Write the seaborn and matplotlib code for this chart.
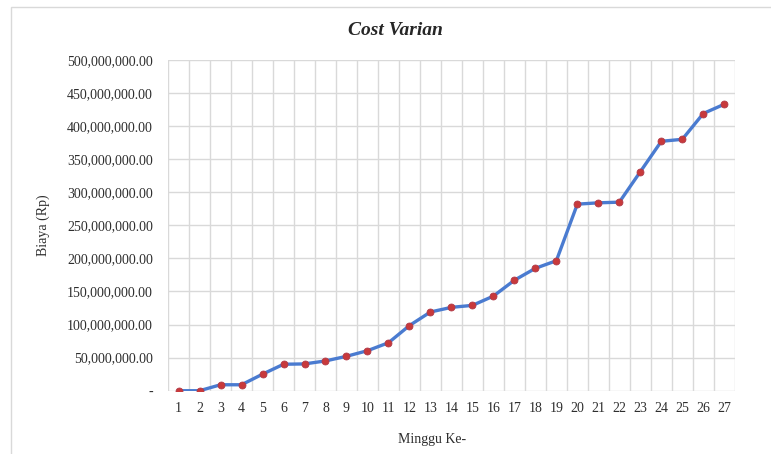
import numpy as np
import pandas as pd
import matplotlib
matplotlib.use("Agg")
import matplotlib.pyplot as plt
import seaborn as sns
from matplotlib.ticker import FuncFormatter, MultipleLocator
from matplotlib.patches import Rectangle

# Data (Rp)
minggu = list(range(1, 28))
biaya = [0, 0, 9e6, 9e6, 25e6, 40e6, 40.5e6, 45e6, 52e6, 60.5e6,
         72.5e6, 98.5e6, 119e6, 126e6, 129e6, 143e6, 167e6, 185e6, 196.5e6,
         282e6, 284e6, 285e6, 331e6, 377e6, 380e6, 419e6, 433e6]

df = pd.DataFrame({"Minggu": minggu, "Biaya": biaya})

sns.set_style("white")
plt.rcParams["font.family"] = ["Liberation Serif", "DejaVu Serif"]

fig = plt.figure(figsize=(7.71, 4.54), dpi=100)
ax = fig.add_axes([0.218, 0.1394, 0.735, 0.7286])

sns.lineplot(data=df, x="Minggu", y="Biaya", ax=ax, color="#4A7BD0",
             linewidth=2.4, marker="o", markersize=5,
             markerfacecolor="#C8393B", markeredgecolor="#B03A48",
             markeredgewidth=0.6, zorder=3)

ax.set_xlim(0.5, 27.5)
ax.set_ylim(0, 500e6)
ax.set_xticks(minggu)
ax.xaxis.set_minor_locator(MultipleLocator(1, offset=0.5))
ax.yaxis.set_major_locator(MultipleLocator(50e6))
ax.yaxis.set_major_formatter(FuncFormatter(lambda v, p: "-" if v == 0 else f"{v:,.2f}"))

ax.grid(False)
ax.grid(True, which="minor", axis="x", color="#D9D9D9", linewidth=1.0)
ax.grid(True, which="major", axis="y", color="#D9D9D9", linewidth=1.0)
for s in ax.spines.values():
    s.set_visible(False)
ax.tick_params(axis="both", which="both", length=0)
ax.tick_params(axis="y", pad=11, labelsize=10, labelcolor="#2E2E2E")
ax.tick_params(axis="x", pad=8, labelsize=10, labelcolor="#2E2E2E")

ax.set_xlabel("")
ax.set_ylabel("")
fig.text(0.56, 0.032, "Minggu Ke-", fontsize=10, color="#2E2E2E", ha="center", va="center")
fig.text(0.056, 0.505, "Biaya (Rp)", fontsize=10, color="#2E2E2E", rotation=90,
         ha="center", va="center")
fig.text(0.513, 0.932, "Cost Varian", fontsize=14, fontweight="bold", fontstyle="italic",
         ha="center", va="center")

# outer chart frame (cut off at right and bottom, as in the reference)
fig.patches.append(Rectangle((10.5 / 771, -0.05), 1.2, 1.05 - 7.5 / 454,
                             transform=fig.transFigure, fill=False,
                             edgecolor="#D9D9D9", linewidth=1.0))

fig.savefig("out.png", dpi=100)
